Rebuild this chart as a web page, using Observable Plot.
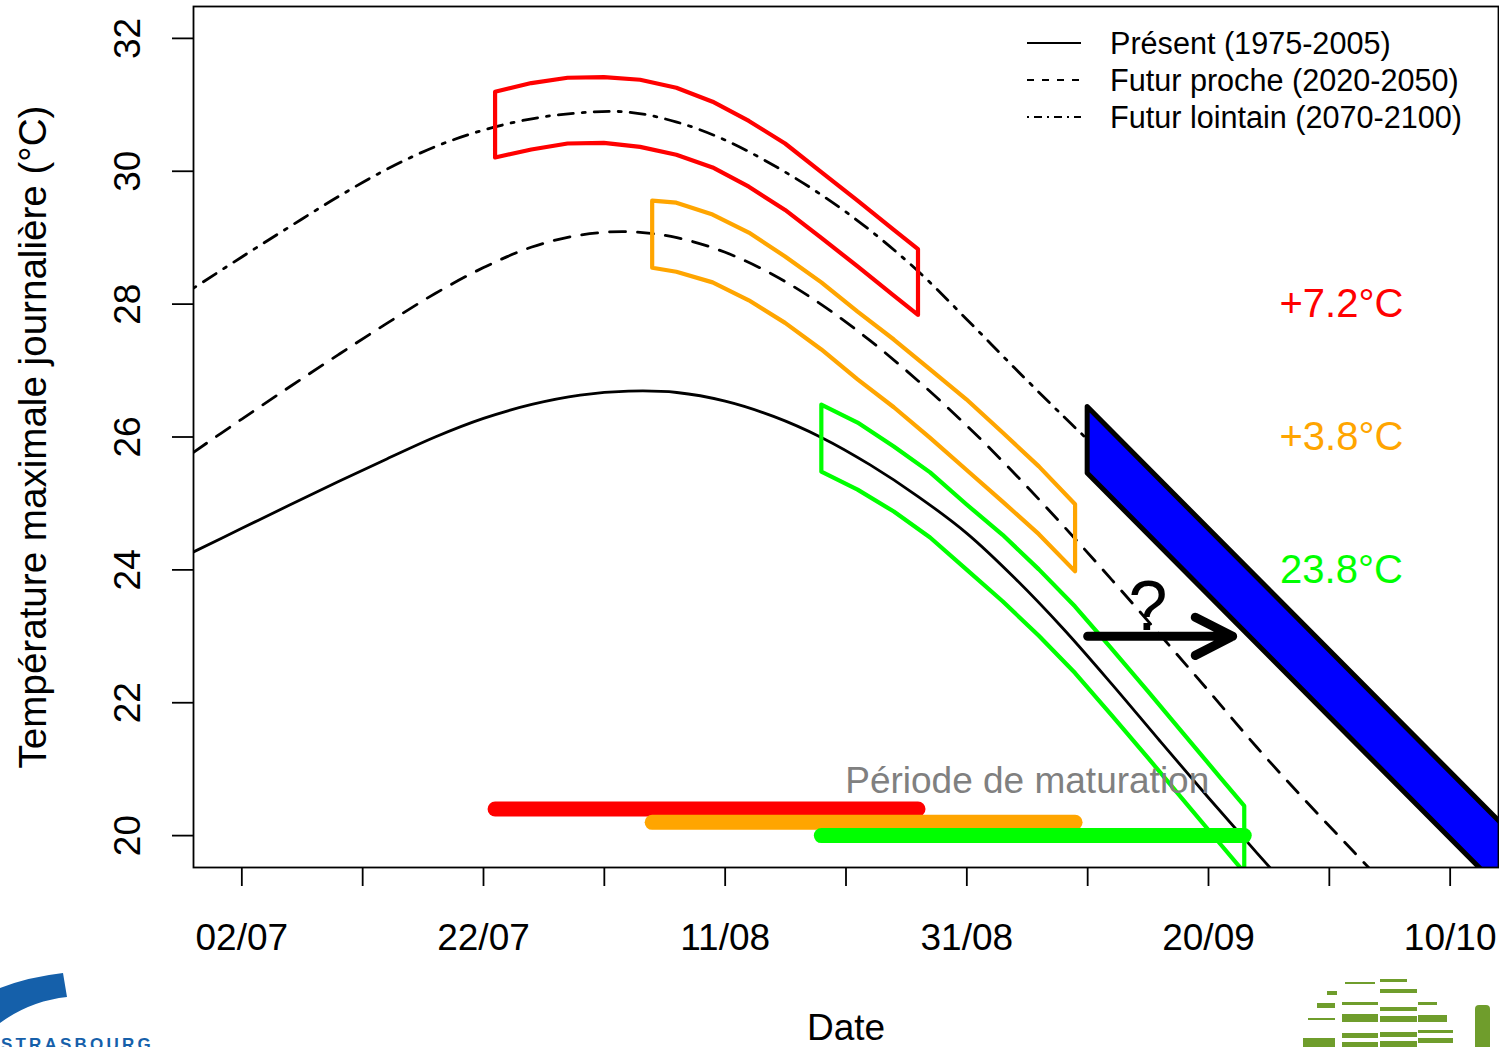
<!DOCTYPE html>
<html><head><meta charset="utf-8">
<script src="https://cdn.jsdelivr.net/npm/d3@7"></script>
<script src="https://cdn.jsdelivr.net/npm/@observablehq/plot@0.6"></script>
<style>
body{margin:0;background:#fff;}
#wrap{position:relative;width:1499px;height:1047px;overflow:hidden;background:#fff;font-family:"Liberation Sans",Arial,Helvetica,sans-serif;}
#overlay{position:absolute;left:0;top:0;pointer-events:none;}
</style></head><body><div id="wrap"></div>
<script>
// Day numbers: days after 1 July (1 = 02/07)
const presentDays  = [-3, 1, 5, 9, 13, 17, 21, 25, 29, 33, 37, 41, 45, 49, 53, 57, 61, 65, 69, 73, 77, 81, 85, 89];
const presentTemps = [24.27, 24.625, 24.98, 25.33, 25.67, 26.0, 26.28, 26.49, 26.63, 26.69, 26.67, 26.54, 26.31, 25.99, 25.58, 25.10, 24.55, 23.87, 23.11, 22.28, 21.42, 20.57, 19.74, 18.93];

const nearDays  = [-3, 1, 5, 9, 13, 17, 21, 25, 29, 33, 37, 41, 45, 49, 53, 57, 61, 65, 69, 73, 77, 81, 85, 89, 93, 97];
const nearTemps = [25.77, 26.27, 26.76, 27.24, 27.71, 28.16, 28.55, 28.86, 29.04, 29.09, 29.00, 28.78, 28.44, 27.99, 27.45, 26.84, 26.17, 25.44, 24.66, 23.85, 23.02, 22.18, 21.33, 20.53, 19.76, 18.99];

const farDays  = [-3, 1, 5, 9, 13, 17, 21, 25, 29, 33, 37, 41, 45, 49, 53, 57, 61, 65, 69, 71];
const farTemps = [28.24, 28.71, 29.17, 29.62, 30.03, 30.37, 30.62, 30.79, 30.88, 30.89, 30.74, 30.47, 30.09, 29.64, 29.11, 28.49, 27.77, 27.03, 26.31, 25.96];

const redBoxDays = [22, 25, 28, 31, 34, 37, 40, 43, 46, 49, 52, 55, 57];
const redBoxHigh = [31.19, 31.32, 31.40, 31.41, 31.37, 31.25, 31.04, 30.75, 30.41, 29.98, 29.55, 29.11, 28.82];
const redBoxLow  = [30.20, 30.32, 30.41, 30.42, 30.36, 30.24, 30.05, 29.76, 29.41, 28.99, 28.56, 28.12, 27.83];

const orangeBoxDays = [35, 37, 40, 43, 46, 49, 52, 55, 58, 61, 64, 67, 70];
const orangeBoxHigh = [29.55, 29.52, 29.34, 29.07, 28.71, 28.32, 27.88, 27.46, 27.01, 26.56, 26.06, 25.55, 24.98];
const orangeBoxLow  = [28.54, 28.48, 28.32, 28.05, 27.71, 27.31, 26.86, 26.44, 25.98, 25.50, 25.02, 24.53, 23.97];

const greenBoxDays = [49, 52, 55, 58, 61, 64, 67, 70, 73, 76, 79, 82, 84];
const greenBoxHigh = [26.48, 26.21, 25.85, 25.46, 24.98, 24.52, 24.00, 23.44, 22.81, 22.17, 21.52, 20.87, 20.44];
const greenBoxLow  = [25.47, 25.20, 24.87, 24.48, 24.00, 23.52, 23.00, 22.44, 21.81, 21.17, 20.52, 19.87, 19.44];

const bandDays = [71, 121];
const bandHigh = [26.45, 17.30];
const bandLow  = [25.45, 16.30];

const periodStart  = [22, 35, 49];
const periodEnd    = [57, 70, 84];
const periodLevel  = [20.4, 20.2, 20.0];
const scenarioColors = ["#FF0000", "#FFA500", "#00FF00"];

const deltaLabels = ["+7.2°C", "+3.8°C", "23.8°C"];
const deltaLevel  = [28, 26, 24];
const deltaDay    = 92;

const arrowFrom = 71, arrowTo = 83.3, arrowLevel = 23;
const questionDay = 76.1, questionLevel = 23.43;
const periodTextDay = 66.35, periodTextLevel = 20.82;

const xTickDays   = [1, 11, 21, 31, 41, 51, 61, 71, 81, 91, 101];
const xTickLabels = ["02/07", "", "22/07", "", "11/08", "", "31/08", "", "20/09", "", "10/10"];
const yTicks = [20, 22, 24, 26, 28, 30, 32];

const legendLabels = ["Présent (1975-2005)", "Futur proche (2020-2050)", "Futur lointain (2070-2100)"];

// helpers
const toDate = d => new Date(Date.UTC(2001, 6, 1 + d));
const zipLine = (days, temps) => days.map((d, i) => ({date: toDate(d), t: temps[i]}));
const zipBox = (days, hi, lo) => days.map((d, i) => ({date: toDate(d), hi: hi[i], lo: lo[i]}));
const tickMap = new Map(xTickDays.map((d, i) => [+toDate(d), xTickLabels[i]]));

const present = zipLine(presentDays, presentTemps);
const near = zipLine(nearDays, nearTemps);
const far = zipLine(farDays, farTemps);
const boxes = [
  zipBox(redBoxDays, redBoxHigh, redBoxLow),
  zipBox(orangeBoxDays, orangeBoxHigh, orangeBoxLow),
  zipBox(greenBoxDays, greenBoxHigh, greenBoxLow)
];
const band = zipBox(bandDays, bandHigh, bandLow);
const periods = periodStart.map((s, i) => ({x1: toDate(s), x2: toDate(periodEnd[i]), y: periodLevel[i], c: scenarioColors[i]}));
const deltas = deltaLabels.map((t, i) => ({date: toDate(deltaDay), y: deltaLevel[i], t, c: scenarioColors[i]}));

const FONT = '"Liberation Sans", Arial, Helvetica, sans-serif';

const marks = [
  Plot.line(present, {x: "date", y: "t", stroke: "black", strokeWidth: 2.8, curve: "catmull-rom", clip: true}),
  Plot.line(near, {x: "date", y: "t", stroke: "black", strokeWidth: 2.8, strokeDasharray: "16,12", curve: "catmull-rom", clip: true}),
  Plot.line(far, {x: "date", y: "t", stroke: "black", strokeWidth: 2.8, strokeDasharray: "3,9,15,9", curve: "catmull-rom", clip: true}),
  ...boxes.map((b, i) => Plot.areaY(b, {x: "date", y1: "lo", y2: "hi", fill: "none", stroke: scenarioColors[i], strokeWidth: 4.2, strokeLinejoin: "round", clip: true})),
  Plot.areaY(band, {x: "date", y1: "lo", y2: "hi", fill: "#0000FF", stroke: "black", strokeWidth: 5, strokeLinejoin: "round", clip: true}),
  ...periods.map(p => Plot.ruleY([p], {y: "y", x1: "x1", x2: "x2", stroke: p.c, strokeWidth: 15, strokeLinecap: "round"})),
  Plot.arrow([{x1: toDate(arrowFrom), x2: toDate(arrowTo), y: arrowLevel}], {x1: "x1", x2: "x2", y1: "y", y2: "y", stroke: "black", strokeWidth: 9, headLength: 7, headAngle: 54, strokeLinecap: "round", strokeLinejoin: "round"}),
  Plot.text([{date: toDate(questionDay), y: questionLevel}], {x: "date", y: "y", text: () => "?", fontSize: 70, fill: "black"}),
  Plot.text([{date: toDate(periodTextDay), y: periodTextLevel}], {x: "date", y: "y", text: () => "Période de maturation", fontSize: 37, fill: "#808080"}),
  Plot.text(deltas, {x: "date", y: "y", text: "t", fill: d => d.c, fontSize: 40}),
  Plot.frame({stroke: "black", strokeWidth: 1.8}),
  Plot.axisX({ticks: xTickDays.map(toDate), tickSize: 19, tickPadding: 37, tickFormat: d => tickMap.get(+d) ?? "", fontSize: 37, strokeWidth: 1.8, label: null}),
  Plot.axisY({ticks: yTicks, tickSize: 21, tickFormat: () => "", strokeWidth: 1.8, label: null}),
  Plot.text(yTicks, {y: d => d, text: d => String(d), frameAnchor: "left", dx: -65, rotate: -90, fontSize: 37, textAnchor: "middle", lineAnchor: "middle", fill: "black"}),
  Plot.text(["Température maximale journalière (°C)"], {frameAnchor: "left", dx: -160, rotate: -90, fontSize: 38.6, textAnchor: "middle", lineAnchor: "middle", fill: "black"}),
  Plot.text(["Date"], {frameAnchor: "bottom", dy: 161, fontSize: 37, lineAnchor: "middle", fill: "black"})
];

const chart = Plot.plot({
  width: 1499, height: 1047,
  marginLeft: 193, marginRight: 1, marginTop: 6, marginBottom: 180,
  style: {fontFamily: FONT, fontSize: "37px", background: "white", color: "black", overflow: "visible"},
  x: {type: "utc", domain: [toDate(-3), toDate(105)], label: null},
  y: {domain: [19.52, 32.48], label: null},
  color: {type: "identity"},
  marks
});
const wrap = document.getElementById("wrap");
wrap.appendChild(chart);

// Legend and logos (decoration overlay)
const ns = "http://www.w3.org/2000/svg";
const ov = document.createElementNS(ns, "svg");
ov.setAttribute("id", "overlay");
ov.setAttribute("width", 1499);
ov.setAttribute("height", 1047);
const dashes = [null, "7,8", "2,5,8,5"];
let html = "";
legendLabels.forEach((lab, i) => {
  const y = 43 + i * 37;
  html += `<line x1="1027" x2="1081" y1="${y}" y2="${y}" stroke="black" stroke-width="1.8" ${dashes[i] ? `stroke-dasharray="${dashes[i]}"` : ""}/>`;
  html += `<text x="1110" y="${y + 11}" font-family='${FONT}' font-size="30.6" fill="black">${lab}</text>`;
});
// Strasbourg logo (approximate)
html += `<path d="M0,988 Q28,977 63,973 L67,997 Q30,1001 0,1023 Z" fill="#1560aa"/>`;
html += `<text x="1" y="1050" font-family='${FONT}' font-size="17" font-weight="bold" letter-spacing="3.2" fill="#1560aa">STRASBOURG</text>`;
// Green logo (approximate)
const gb = [[1345,982,30,2],[1380,979,27,3],[1380,989,37,4],[1327,991,10,4],[1317,1003,18,5],[1342,1002,36,3],[1380,1007,37,4],[1418,1002,19,3],[1308,1018,27,2],[1342,1014,36,8],[1380,1016,37,6],[1418,1015,29,7],[1342,1033,36,5],[1380,1032,37,5],[1418,1030,35,3],[1303,1038,32,9],[1418,1038,35,5],[1342,1042,36,5],[1380,1041,37,6]];
gb.forEach(([x, y, w, h]) => { html += `<rect x="${x}" y="${y}" width="${w}" height="${h}" fill="#6f9d2c"/>`; });
html += `<rect x="1475" y="1005" width="15" height="45" rx="4" fill="#6f9d2c"/>`;
ov.innerHTML = html;
wrap.appendChild(ov);
</script>
</body></html>
